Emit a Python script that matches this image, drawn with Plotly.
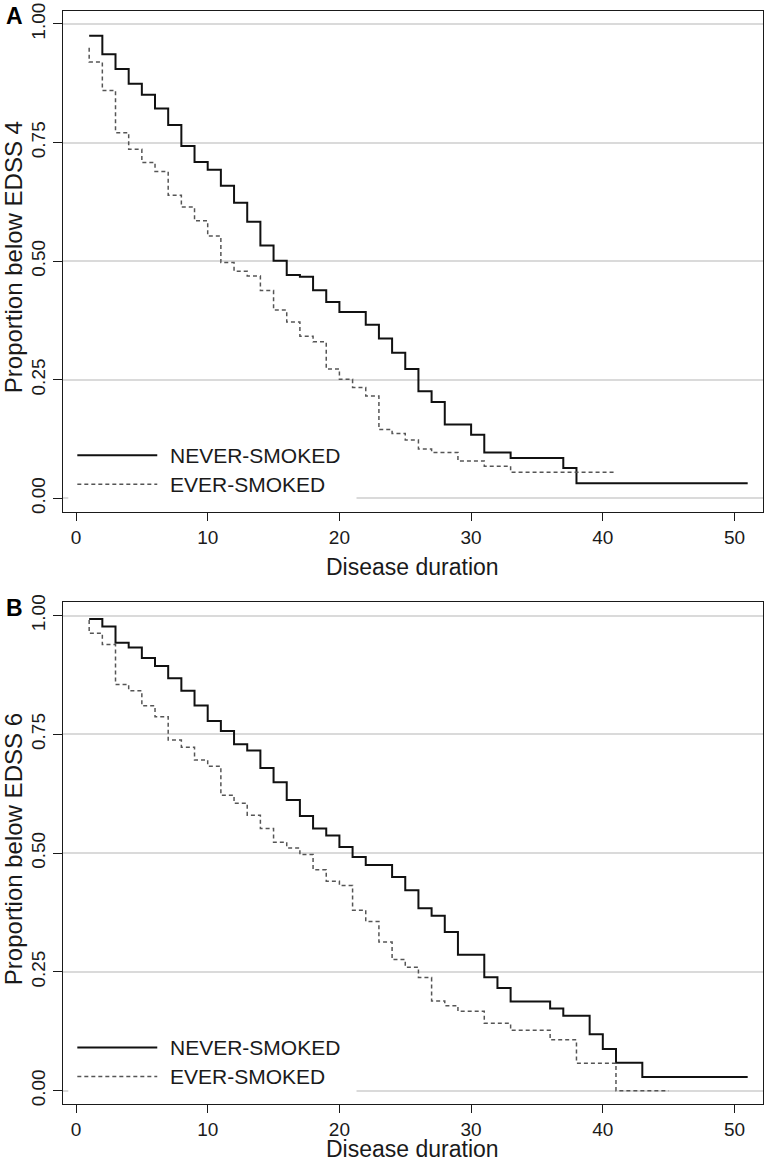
import plotly.graph_objects as go

# ---------------- data ----------------
# Panel A: proportion below EDSS 4
a_never_t = [1, 2, 3, 4, 5, 6, 7, 8, 9, 10, 11, 12, 13, 14, 15, 16, 17, 18, 19, 20,
             22, 23, 24, 25, 26, 27, 28, 30, 31, 33, 37, 38]
a_never_s = [0.975, 0.936, 0.905, 0.874, 0.851, 0.822, 0.787, 0.743, 0.709, 0.693,
             0.659, 0.623, 0.583, 0.533, 0.501, 0.471, 0.467, 0.439, 0.414, 0.393,
             0.366, 0.337, 0.307, 0.273, 0.226, 0.203, 0.156, 0.134, 0.097, 0.085,
             0.064, 0.032]
a_never_end = 51

a_ever_t = [1, 1, 2, 3, 4, 5, 6, 7, 8, 9, 10, 11, 12, 13, 14, 15, 16, 17, 18, 19, 20,
            21, 22, 23, 24, 25, 26, 27, 29, 31, 33]
a_ever_s = [0.950, 0.920, 0.860, 0.771, 0.736, 0.708, 0.689, 0.639, 0.614, 0.585,
            0.553, 0.497, 0.479, 0.469, 0.438, 0.397, 0.372, 0.342, 0.330, 0.273,
            0.251, 0.234, 0.216, 0.145, 0.137, 0.123, 0.104, 0.097, 0.079, 0.068,
            0.055]
a_ever_end = 41

# Panel B: proportion below EDSS 6
b_never_t = [1, 2, 3, 4, 5, 6, 7, 8, 9, 10, 11, 12, 13, 14, 15, 16, 17, 18, 19, 20,
             21, 22, 24, 25, 26, 27, 28, 29, 31, 32, 33, 36, 37, 39, 40, 41, 43]
b_never_s = [0.993, 0.977, 0.943, 0.933, 0.911, 0.894, 0.868, 0.842, 0.811, 0.778,
             0.757, 0.729, 0.716, 0.679, 0.649, 0.612, 0.578, 0.552, 0.537, 0.513,
             0.492, 0.475, 0.450, 0.422, 0.384, 0.368, 0.334, 0.286, 0.239, 0.216,
             0.188, 0.173, 0.158, 0.119, 0.088, 0.059, 0.029]
b_never_end = 51

b_ever_t = [1, 1, 2, 3, 4, 5, 6, 7, 8, 9, 10, 11, 12, 13, 14, 15, 16, 17, 18, 19, 20,
            21, 22, 23, 24, 25, 26, 27, 28, 29, 31, 33, 36, 38, 41]
b_ever_s = [0.991, 0.963, 0.939, 0.855, 0.842, 0.810, 0.787, 0.738, 0.723, 0.696,
            0.683, 0.622, 0.605, 0.580, 0.552, 0.523, 0.511, 0.497, 0.465, 0.441,
            0.432, 0.380, 0.356, 0.313, 0.276, 0.260, 0.238, 0.189, 0.179, 0.167,
            0.142, 0.127, 0.107, 0.058, 0.000]
b_ever_end = 45

series_names = ["NEVER-SMOKED", "EVER-SMOKED"]
panel_labels = ["A", "B"]
y_titles = ["Proportion below EDSS 4", "Proportion below EDSS 6"]
x_title = "Disease duration"
x_ticks = [0, 10, 20, 30, 40, 50]
y_ticks = [0, 0.25, 0.5, 0.75, 1.0]

# ---------------- styling ----------------
W, H = 768, 1163
FONT = "Liberation Sans, Arial, Helvetica, sans-serif"
INK = "#1a1a1a"
SOLID = dict(color="#111111", width=2)
DASHED = dict(color="#555555", width=1.5, dash="4px,3px")
GRID = "#dadada"

XR = [-1.01, 52.14]
YR = [-0.028, 1.028]

# plot area pixel boxes (left, right, top, bottom)
boxA = (62.7, 762.7, 10.7, 511.7)
boxB = (62.7, 762.7, 602.3, 1104.0)


def px_x(p):
    return p / W


def px_y(p):
    return 1 - p / H


def step(t, s, end):
    return list(t) + [end], list(s) + [s[-1]]


fig = go.Figure()

panels = [
    ("x", "y", (a_never_t, a_never_s, a_never_end), (a_ever_t, a_ever_s, a_ever_end)),
    ("x2", "y2", (b_never_t, b_never_s, b_never_end), (b_ever_t, b_ever_s, b_ever_end)),
]

for xa, ya, nev, ev in panels:
    xs, ys = step(*nev)
    fig.add_trace(go.Scatter(x=xs, y=ys, mode="lines", line_shape="hv",
                             line=SOLID, name=series_names[0], xaxis=xa, yaxis=ya,
                             showlegend=False))
    xs, ys = step(*ev)
    fig.add_trace(go.Scatter(x=xs, y=ys, mode="lines", line_shape="hv",
                             line=DASHED, name=series_names[1], xaxis=xa, yaxis=ya,
                             showlegend=False))

axis_common = dict(showline=True, linecolor=INK, linewidth=1.2, mirror=True,
                   ticks="outside", tickcolor=INK, tickwidth=1.2,
                   tickfont=dict(family=FONT, size=19, color=INK), zeroline=False)

layout = dict(width=W, height=H, margin=dict(l=0, r=0, t=0, b=0, autoexpand=False),
              paper_bgcolor="white", plot_bgcolor="white", showlegend=False)

for i, box in enumerate([boxA, boxB]):
    sfx = "" if i == 0 else str(i + 1)
    l, r, t, b = box
    layout["xaxis" + sfx] = dict(axis_common, domain=[px_x(l), px_x(r)], range=XR,
                                 tickvals=x_ticks, ticklen=8, showgrid=False,
                                 anchor="y" + sfx)
    layout["yaxis" + sfx] = dict(axis_common, domain=[px_y(b), px_y(t)], range=YR,
                                 tickvals=y_ticks, tickformat=".2f", tickangle=-90,
                                 ticklen=9, showgrid=True, gridcolor=GRID,
                                 gridwidth=1.5, anchor="x" + sfx)
fig.update_layout(**layout)

shapes = []
annotations = []
legend_y = [0.091, 0.030]
for i, box in enumerate([boxA, boxB]):
    sfx = "" if i == 0 else str(i + 1)
    xr, yr = "x" + sfx, "y" + sfx
    l, r, t, b = box
    # legend background (covers gridline)
    shapes.append(dict(type="rect", xref=xr, yref=yr, x0=-0.585, x1=21.3,
                       y0=-0.012, y1=0.15, fillcolor="white", line=dict(width=0),
                       layer="above"))
    shapes.append(dict(type="line", xref=xr, yref=yr, x0=0.1, x1=6.17,
                       y0=legend_y[0], y1=legend_y[0], line=SOLID, layer="above"))
    shapes.append(dict(type="line", xref=xr, yref=yr, x0=0.1, x1=6.17,
                       y0=legend_y[1], y1=legend_y[1], line=DASHED, layer="above"))
    for k, name in enumerate(series_names):
        annotations.append(dict(text=name, xref=xr, yref=yr, x=7.0, y=legend_y[k],
                                xanchor="left", yanchor="middle", showarrow=False,
                                font=dict(family=FONT, size=21, color=INK)))
    # panel label
    annotations.append(dict(text="<b>%s</b>" % panel_labels[i], xref="paper", yref="paper",
                            x=px_x(14.5), y=px_y(t + 5.5), xanchor="center",
                            yanchor="middle", showarrow=False,
                            font=dict(family=FONT, size=23, color="black")))
    # y title
    annotations.append(dict(text=y_titles[i], xref="paper", yref="paper",
                            x=px_x(13), y=px_y((t + b) / 2 - 4), xanchor="center",
                            yanchor="middle", textangle=-90, showarrow=False,
                            font=dict(family=FONT, size=24, color=INK)))
    # x title
    x_off = 55 if i == 0 else 45
    annotations.append(dict(text=x_title, xref="paper", yref="paper",
                            x=px_x((l + r) / 2), y=px_y(b + x_off), xanchor="center",
                            yanchor="middle", showarrow=False,
                            font=dict(family=FONT, size=23, color=INK)))

fig.update_layout(shapes=shapes, annotations=annotations)
fig.write_html("out.html", config={"displayModeBar": False},
               post_script="document.body.style.margin='0';document.body.style.overflow='hidden';")
